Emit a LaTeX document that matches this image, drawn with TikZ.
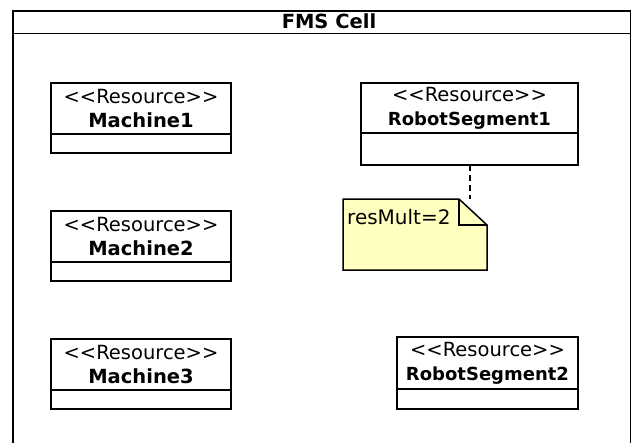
\documentclass[tikz,border=0pt]{standalone}
\usepackage{fontspec}
\setmainfont{DejaVu Sans}
\definecolor{notefill}{RGB}{255,255,192}
\newcommand{\stereo}[1]{<{}<#1>{}>}
\newcommand{\robotname}[1]{{\fontsize{18}{24}\selectfont\bfseries #1}}
\tikzset{
  frameline/.style={line width=1.5pt},
  clshead/.style={draw, line width=1.5pt, fill=white, minimum height=51pt,
    inner sep=0pt, outer sep=0pt, align=center, font=\fontsize{19.5}{24}\selectfont, anchor=north},
  clsbody/.style={draw, line width=1.5pt, fill=white, inner sep=0pt, outer sep=0pt, anchor=north},
  notebox/.style={minimum width=144pt, minimum height=71pt, inner sep=0pt, outer sep=0pt, anchor=north west},
  notetext/.style={font=\fontsize{20}{24}\selectfont, inner sep=0pt, anchor=west},
  tether/.style={line width=2pt, dash pattern=on 6pt off 4pt}
}
\begin{document}
\begin{tikzpicture}[x=1pt, y=-1pt]
\useasboundingbox (0,0) rectangle (632,442);

% package frame with header
\coordinate (fbl) at (13,450);
\coordinate (ftl) at (13,11);
\coordinate (ftr) at (630.5,11);
\coordinate (fbr) at (630.5,450);
\draw[frameline] (fbl) -- (ftl) -- (ftr) -- (fbr);
\coordinate (hl) at (13,33.5);
\coordinate (hr) at (630.5,33.5);
\draw[frameline] (hl) -- (hr);
\node[font=\fontsize{19.5}{23}\selectfont\bfseries] (title) at (329,21.5) {FMS Cell};

% resource classes: name compartment + empty attribute compartment
\node[clshead, minimum width=180pt] (m1) at (141,83) {\stereo{Resource}\\\textbf{Machine1}};
\node[clsbody, minimum width=180pt, minimum height=19pt] (m1b) at (m1.south) {};

\node[clshead, minimum width=180pt] (m2) at (141,211) {\stereo{Resource}\\\textbf{Machine2}};
\node[clsbody, minimum width=180pt, minimum height=19pt] (m2b) at (m2.south) {};

\node[clshead, minimum width=180pt] (m3) at (141,339) {\stereo{Resource}\\\textbf{Machine3}};
\node[clsbody, minimum width=180pt, minimum height=19pt] (m3b) at (m3.south) {};

\node[clshead, minimum width=217pt, minimum height=50pt] (r1) at (469.5,83) {\stereo{Resource}\\\robotname{RobotSegment1}};
\node[clsbody, minimum width=217pt, minimum height=32pt] (r1b) at (r1.south) {};

\node[clshead, minimum width=181pt, minimum height=52pt] (r2) at (487.5,337) {\stereo{Resource}\\\robotname{RobotSegment2}};
\node[clsbody, minimum width=181pt, minimum height=20pt] (r2b) at (r2.south) {};

% note with folded corner
\node[notebox] (note) at (343,199) {};
\draw[line width=1.5pt, fill=notefill]
  (note.north west) -- ([xshift=-28pt]note.north east) -- ([yshift=-26pt]note.north east)
  -- (note.south east) -- (note.south west) -- cycle;
\draw[line width=1.5pt] ([xshift=-28pt]note.north east) |- ([yshift=-26pt]note.north east);
\node[notetext] (notelbl) at (347,217.5) {resMult=2};

% anchor line from class to note
\draw[tether] (r1b.south) -- (r1b.south |- note.north);
\end{tikzpicture}
\end{document}
